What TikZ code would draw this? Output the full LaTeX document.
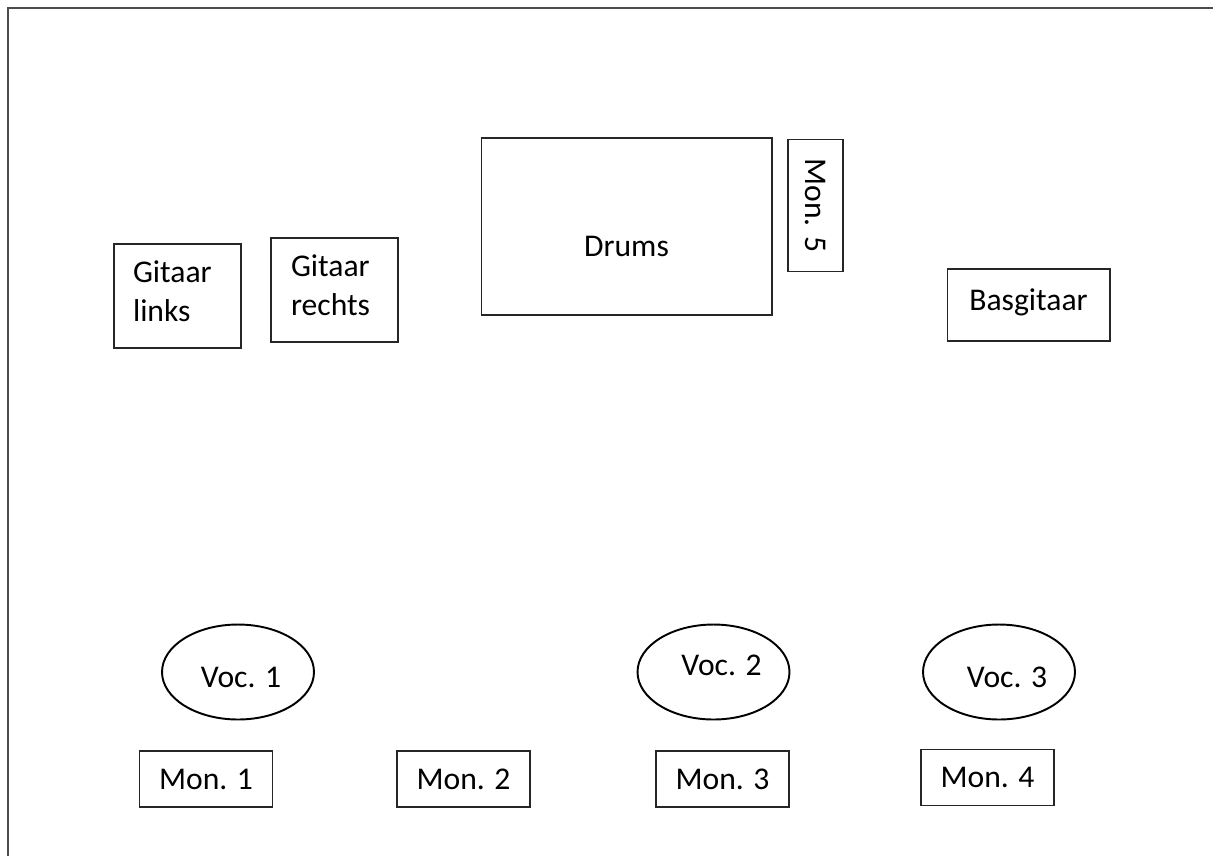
\documentclass[tikz,border=0pt]{standalone}
\usepackage{fontspec}
\setmainfont{Carlito}
\usetikzlibrary{shapes.geometric}

\begin{document}
\begin{tikzpicture}[x=0.02cm, y=-0.02cm,
  font=\fontsize{18}{22}\selectfont,
  box/.style={rectangle, draw=black!85, line width=0.6pt, inner sep=0pt},
  mic/.style={ellipse, draw=black, line width=1.1pt, inner sep=0pt,
    minimum width=3.04cm, minimum height=1.9cm},
  monbox/.style={box, minimum width=2.66cm, minimum height=1.12cm}]
\useasboundingbox (0,0) rectangle (1213,856);
\draw[black!70, line width=1.3pt] (8,856) -- (8,8) -- (1213,8);
% band
\node[box, minimum width=2.54cm, minimum height=2.08cm,
  label={[align=left, text width=1.78cm, yshift=0.1cm]center:Gitaar\\links}] (GitLinks) at (177.5,296) {};
\node[box, minimum width=2.54cm, minimum height=2.08cm,
  label={[align=left, text width=1.74cm, yshift=0.1cm]center:Gitaar\\rechts}] (GitRechts) at (334.5,290) {};
\node[box, minimum width=5.82cm, minimum height=3.54cm, label={[yshift=-0.4cm]center:Drums}] (Drums) at (626.5,226.5) {};
\node[box, rotate=-90, minimum width=2.64cm, minimum height=1.1cm] (Mon5) at (815.5,205.5) {Mon. 5};
\node[box, minimum width=3.26cm, minimum height=1.44cm, label={[yshift=0.06cm]center:Basgitaar}] (Bas) at (1028.5,305) {};
% zang
\node[mic, label={[xshift=0.06cm, yshift=-0.1cm]center:Voc. 1}] (Voc1) at (238,672) {};
\node[mic, label={[xshift=0.16cm, yshift=0.14cm]center:Voc. 2}] (Voc2) at (713.5,672) {};
\node[mic, label={[xshift=0.16cm, yshift=-0.1cm]center:Voc. 3}] (Voc3) at (999,672) {};
% monitoren
\node[monbox] (Mon1) at (206,779) {Mon. 1};
\node[monbox] (Mon2) at (463.5,779) {Mon. 2};
\node[monbox] (Mon3) at (722.5,779) {Mon. 3};
\node[monbox] (Mon4) at (987.5,777.5) {Mon. 4};
\end{tikzpicture}
\end{document}
